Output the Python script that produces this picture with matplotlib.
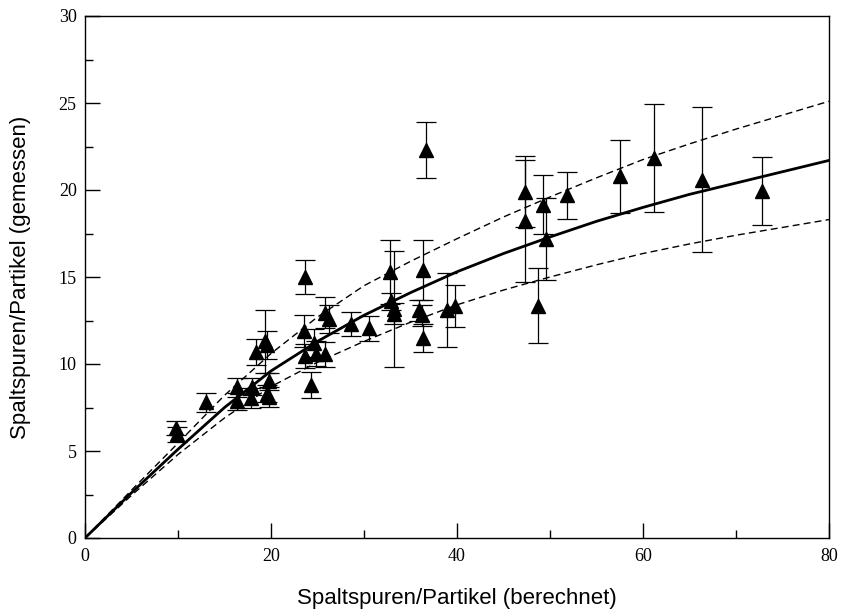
import numpy as np
import matplotlib
matplotlib.use("Agg")
import matplotlib.pyplot as plt
from matplotlib.ticker import MultipleLocator

# Messpunkte: berechnet (x), gemessen (y), Fehler (yerr)
x_calc = [9.8, 9.9, 13.0, 16.3, 16.3, 18.0, 17.9, 18.35, 19.4, 19.6, 19.8, 19.6, 19.8,
          23.7, 23.6, 23.7, 24.35, 24.6, 24.8, 25.8, 26.25, 25.8, 28.6, 30.5,
          32.8, 32.9, 33.2, 33.2, 36.3, 35.95, 36.2, 36.3, 36.7, 38.9, 39.8,
          47.3, 47.3, 49.2, 49.6, 48.75, 51.8, 57.5, 61.2, 66.3, 72.8]
y_meas = [6.3, 5.95, 7.8, 8.65, 7.85, 8.7, 8.05, 10.7, 11.3, 11.1, 9.0, 8.3, 8.1,
          15.0, 11.9, 10.45, 8.8, 11.2, 10.6, 12.95, 12.6, 10.55, 12.3, 12.05,
          15.3, 13.6, 13.15, 12.9, 15.4, 13.1, 12.8, 11.5, 22.3, 13.1, 13.35,
          19.9, 18.2, 19.15, 17.2, 13.35, 19.7, 20.8, 21.85, 20.6, 19.95]
y_err = [0.4, 0.45, 0.55, 0.55, 0.5, 0.5, 0.55, 0.75, 1.8, 0.8, 0.5, 0.5, 0.55,
         0.95, 0.9, 0.7, 0.75, 0.8, 0.7, 0.9, 0.8, 0.7, 0.7, 0.7,
         1.85, 0.5, 3.35, 0.6, 1.7, 0.6, 0.6, 0.8, 1.6, 2.15, 1.2,
         2.05, 3.5, 1.7, 2.35, 2.15, 1.35, 2.1, 3.1, 4.15, 1.95]

# Kurven
x_curve = [0, 5, 10, 15, 20, 25, 30, 35, 40, 45, 50, 55, 60, 65, 70, 75, 80]
y_fit = [0, 2.6, 5.1, 7.5, 9.6, 11.3, 12.8, 14.1, 15.3, 16.35, 17.3, 18.2,
         19.0, 19.75, 20.4, 21.05, 21.7]
y_upper = [0, 2.75, 5.45, 8.2, 10.6, 12.7, 14.5, 15.9, 17.2, 18.45, 19.6, 20.7,
           21.75, 22.65, 23.5, 24.3, 25.1]
y_lower = [0, 2.45, 4.8, 6.9, 8.7, 10.1, 11.3, 12.4, 13.4, 14.25, 15.0, 15.7,
           16.35, 16.9, 17.4, 17.85, 18.3]

fig = plt.figure(figsize=(8.42, 6.10), dpi=100)
ax = fig.add_axes([85 / 842, 72 / 610, 744 / 842, 522 / 610])

ax.errorbar(x_calc, y_meas, yerr=y_err, fmt="none", ecolor="black",
            elinewidth=0.9, capsize=7, capthick=0.9, zorder=2)
ax.plot(x_calc, y_meas, "^", color="black", ms=10, zorder=3)

ax.plot(x_curve, y_fit, color="black", lw=2, zorder=4)
ax.plot(x_curve, y_upper, color="black", lw=1, dashes=(5, 3), zorder=4)
ax.plot(x_curve, y_lower, color="black", lw=1, dashes=(5, 3), zorder=4)

ax.set_xlim(0, 80)
ax.set_ylim(0, 30)
ax.xaxis.set_major_locator(MultipleLocator(20))
ax.xaxis.set_minor_locator(MultipleLocator(10))
ax.yaxis.set_major_locator(MultipleLocator(5))
ax.yaxis.set_minor_locator(MultipleLocator(2.5))
ax.tick_params(which="both", direction="in", top=False, right=False)
ax.tick_params(which="major", length=11, width=1)
ax.tick_params(which="minor", length=5.5, width=1)
ax.tick_params(axis="x", pad=7)
ax.tick_params(axis="y", pad=6)
for lab in ax.get_xticklabels() + ax.get_yticklabels():
    lab.set_fontfamily("Liberation Serif")
    lab.set_fontsize(13)
for sp in ax.spines.values():
    sp.set_linewidth(1)

ax.set_xlabel("Spaltspuren/Partikel (berechnet)", fontfamily="Liberation Sans",
              fontsize=16, labelpad=17)
ax.set_ylabel("Spaltspuren/Partikel (gemessen)", fontfamily="Liberation Sans",
              fontsize=16, labelpad=20)

fig.savefig("out.png", dpi=100)
